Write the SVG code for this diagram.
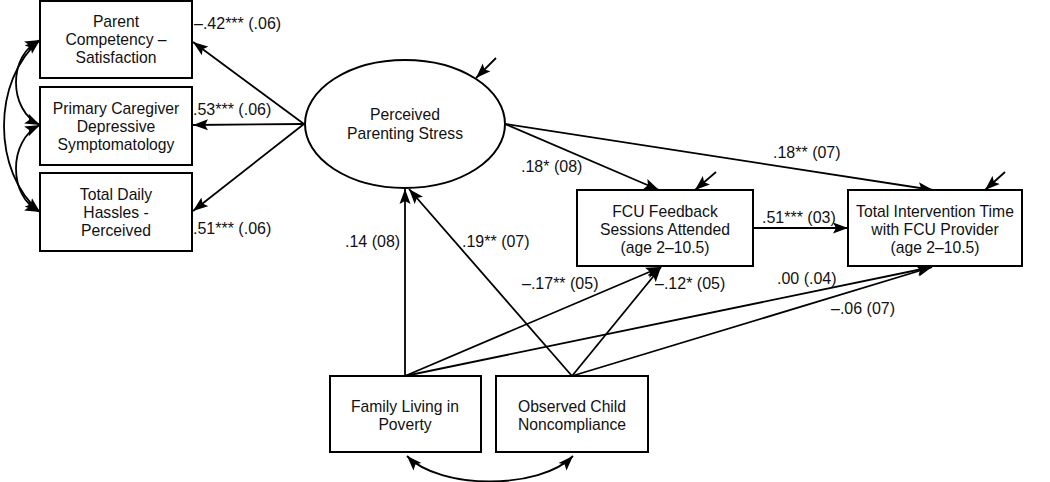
<svg xmlns="http://www.w3.org/2000/svg" width="1050" height="482" viewBox="0 0 1050 482">
<style>
.box{fill:#fff;stroke:#000;stroke-width:2}
.t{font-family:"Liberation Sans",Arial,sans-serif;font-size:15.7px;fill:#111;text-anchor:middle}
.l{font-family:"Liberation Sans",Arial,sans-serif;font-size:16px;fill:#111}
.c{fill:none;stroke:#000;stroke-width:1.8;marker-end:url(#ah)}
.cv{fill:none;stroke:#000;stroke-width:1.8;marker-start:url(#ah);marker-end:url(#ah)}
</style>
<defs>
<marker id="ah" markerUnits="userSpaceOnUse" markerWidth="18" markerHeight="12" refX="15" refY="6" orient="auto-start-reverse" viewBox="0 0 18 12">
<path d="M0,0.5 L15,6 L0,11.5 L3,6 Z" fill="#000"/>
</marker>
</defs>
<rect width="1050" height="482" fill="#fff"/>
<g id="connectors">
<line class="c" x1="304" y1="124" x2="193" y2="42"/>
<line class="c" x1="304" y1="124" x2="193" y2="125"/>
<line class="c" x1="304" y1="124" x2="193" y2="211"/>
<path class="cv" d="M40,40 C8,55 8,110 40,125"/>
<path class="cv" d="M40,125 C8,140 8,197 40,212"/>
<path class="cv" d="M40,40 C-8,80 -8,172 40,212"/>
<line class="c" x1="496" y1="58" x2="476" y2="78"/>
<line class="c" x1="505" y1="124" x2="659" y2="190"/>
<line class="c" x1="505" y1="124" x2="933" y2="190"/>
<line class="c" x1="716" y1="172" x2="695" y2="190"/>
<line class="c" x1="1005" y1="172" x2="985" y2="190"/>
<line class="c" x1="753" y1="228" x2="848" y2="228"/>
<line class="c" x1="405" y1="376" x2="405" y2="189"/>
<line class="c" x1="405" y1="376" x2="661" y2="267"/>
<line class="c" x1="405" y1="376" x2="932" y2="267"/>
<line class="c" x1="572" y1="376" x2="409" y2="189"/>
<line class="c" x1="572" y1="376" x2="661" y2="267"/>
<line class="c" x1="572" y1="376" x2="932" y2="267"/>
<path class="cv" d="M407,456 C440,490 540,490 573,456"/>
</g>
<g id="labels">
<text class="l" x="194" y="29">–.42*** (.06)</text>
<text class="l" x="193" y="115">.53*** (.06)</text>
<text class="l" x="193" y="234">.51*** (.06)</text>
<text class="l" x="521" y="172">.18* (08)</text>
<text class="l" x="773" y="158">.18** (07)</text>
<text class="l" x="762" y="223">.51*** (03)</text>
<text class="l" x="345" y="247">.14 (08)</text>
<text class="l" x="462" y="247">.19** (07)</text>
<text class="l" x="522" y="289">–.17** (05)</text>
<text class="l" x="655" y="289">–.12* (05)</text>
<text class="l" x="777" y="284">.00 (.04)</text>
<text class="l" x="831" y="314">–.06 (07)</text>
</g>
<g id="n-competency">
<rect class="box" x="40" y="1" width="152" height="77"/>
<text class="t" x="116" y="27">Parent</text>
<text class="t" x="116" y="45">Competency –</text>
<text class="t" x="116" y="63">Satisfaction</text>
</g>
<g id="n-depressive">
<rect class="box" x="40" y="87" width="152" height="78"/>
<text class="t" x="116" y="114">Primary Caregiver</text>
<text class="t" x="116" y="132">Depressive</text>
<text class="t" x="116" y="150">Symptomatology</text>
</g>
<g id="n-hassles">
<rect class="box" x="40" y="173" width="152" height="78"/>
<text class="t" x="116" y="200">Total Daily</text>
<text class="t" x="116" y="218">Hassles -</text>
<text class="t" x="116" y="236">Perceived</text>
</g>
<g id="n-stress">
<ellipse cx="405" cy="124" rx="100" ry="64" fill="#fff" stroke="#000" stroke-width="2"/>
<text class="t" x="405" y="120">Perceived</text>
<text class="t" x="405" y="139">Parenting Stress</text>
</g>
<g id="n-fcu">
<rect class="box" x="577" y="190" width="176" height="76"/>
<text class="t" x="665" y="217">FCU Feedback</text>
<text class="t" x="665" y="235">Sessions Attended</text>
<text class="t" x="665" y="253">(age 2–10.5)</text>
</g>
<g id="n-total">
<rect class="box" x="848" y="190" width="174" height="76"/>
<text class="t" x="935" y="217">Total Intervention Time</text>
<text class="t" x="935" y="235">with FCU Provider</text>
<text class="t" x="935" y="253">(age 2–10.5)</text>
</g>
<g id="n-poverty">
<rect class="box" x="330" y="376" width="151" height="76"/>
<text class="t" x="405" y="412">Family Living in</text>
<text class="t" x="405" y="430">Poverty</text>
</g>
<g id="n-noncompliance">
<rect class="box" x="496" y="376" width="152" height="76"/>
<text class="t" x="572" y="412">Observed Child</text>
<text class="t" x="572" y="430">Noncompliance</text>
</g>
</svg>
